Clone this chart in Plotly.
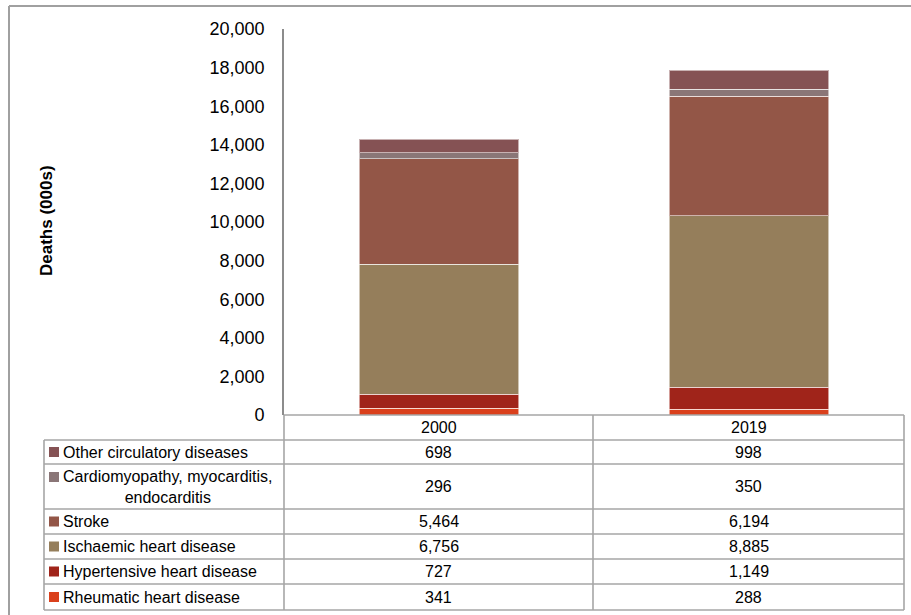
import plotly.graph_objects as go

# Deaths (000s) by cause, stacked bottom-to-top
years = ["2000", "2019"]
causes = [
    "Rheumatic heart disease",
    "Hypertensive heart disease",
    "Ischaemic heart disease",
    "Stroke",
    "Cardiomyopathy, myocarditis, endocarditis",
    "Other circulatory diseases",
]
rheumatic = [341, 288]
hypertensive = [727, 1149]
ischaemic = [6756, 8885]
stroke = [5464, 6194]
cardiomyopathy = [296, 350]
other = [698, 998]

series = [rheumatic, hypertensive, ischaemic, stroke, cardiomyopathy, other]
colors = ["#DA401C", "#A0241A", "#957E5B", "#935647", "#8A7677", "#855254"]

y_ticks = list(range(0, 20001, 2000))

W, H = 911, 615
FONT = "Liberation Sans, Arial, sans-serif"
GRID = "#A6A6A6"


def px(x):
    return x / W


def py(y):
    return 1 - y / H


fig = go.Figure()
for name, vals, col in zip(causes, series, colors):
    fig.add_trace(go.Bar(
        x=years, y=vals, name=name,
        marker=dict(color=col, line=dict(color="rgba(255,255,255,0.55)", width=1)),
        showlegend=False,
    ))

# plot area in pixels
X0, X1 = 284, 904
Y_ZERO, Y_TOP = 415, 29

shapes = []
annotations = []


def hline(y, x0, x1, color=GRID, width=1.6):
    shapes.append(dict(type="line", xref="paper", yref="paper",
                       x0=px(x0), x1=px(x1), y0=py(y), y1=py(y),
                       line=dict(color=color, width=width)))


def vline(x, y0, y1, color=GRID, width=1.6):
    shapes.append(dict(type="line", xref="paper", yref="paper",
                       x0=px(x), x1=px(x), y0=py(y0), y1=py(y1),
                       line=dict(color=color, width=width)))


# outer chart frame
hline(6, 9, W + 5, color="#A0A0A0", width=2)
vline(9, 6, H + 5, color="#A0A0A0", width=2)

# data table grid
col_edges = [44, 284, 593, 904]
row_edges = [440, 464, 509, 534, 559, 584, 610]
hline(Y_ZERO, 284, 904)
for y in row_edges:
    hline(y, 44, 904)
vline(44, 440, 610)
vline(284, Y_ZERO, 610)
vline(593, Y_ZERO, 610)
vline(904, Y_ZERO, 610)

col_centers = [(col_edges[1] + col_edges[2]) / 2, (col_edges[2] + col_edges[3]) / 2]

# header row with the years
for yr, cx in zip(years, col_centers):
    annotations.append(dict(xref="paper", yref="paper", x=px(cx), y=py((Y_ZERO + 440) / 2),
                            text=yr, showarrow=False, xanchor="center", yanchor="middle",
                            font=dict(family=FONT, size=16, color="#000")))

# table rows, top row is the last stacked series
row_labels = {
    "Cardiomyopathy, myocarditis, endocarditis": "Cardiomyopathy, myocarditis,<br>endocarditis",
}
order = list(range(len(causes)))[::-1]
for i, idx in enumerate(order):
    top, bot = row_edges[i], row_edges[i + 1]
    cy = (top + bot) / 2
    label = row_labels.get(causes[idx], causes[idx])
    two_line = "<br>" in label
    sq_c = top + 13 if two_line else cy
    shapes.append(dict(type="rect", xref="paper", yref="paper",
                       x0=px(49), x1=px(59), y0=py(sq_c - 5), y1=py(sq_c + 5),
                       fillcolor=colors[idx], line=dict(width=0)))
    annotations.append(dict(xref="paper", yref="paper", x=px(61), y=py(cy),
                            text=label, showarrow=False, xanchor="left", yanchor="middle",
                            align="center",
                            font=dict(family=FONT, size=16, color="#000")))
    for j, cx in enumerate(col_centers):
        annotations.append(dict(xref="paper", yref="paper", x=px(cx), y=py(cy),
                                text=f"{series[idx][j]:,}", showarrow=False,
                                xanchor="center", yanchor="middle",
                                font=dict(family=FONT, size=16, color="#000")))

# y-axis title
annotations.append(dict(xref="paper", yref="paper", x=px(46), y=py(221),
                        text="<b>Deaths (000s)</b>", textangle=-90, showarrow=False,
                        xanchor="center", yanchor="middle",
                        font=dict(family=FONT, size=17, color="#000")))

fig.update_layout(
    width=W, height=H,
    margin=dict(l=0, r=0, t=0, b=0, pad=0, autoexpand=False),
    paper_bgcolor="white", plot_bgcolor="white",
    barmode="stack", bargap=0.487,
    xaxis=dict(domain=[px(X0), px(X1)], showticklabels=False, showline=False,
               showgrid=False, zeroline=False, ticks="", automargin=False),
    yaxis=dict(domain=[py(Y_ZERO), py(Y_TOP)], range=[0, 20000],
               tickvals=y_ticks, tickformat=",", ticks="", ticklabelstandoff=14,
               showgrid=False, zeroline=False, showline=True, automargin=False,
               linecolor="#8C8C8C", linewidth=1.6,
               tickfont=dict(family=FONT, size=18, color="#000")),
    shapes=shapes,
    annotations=annotations,
)

fig.write_html("out.html")
